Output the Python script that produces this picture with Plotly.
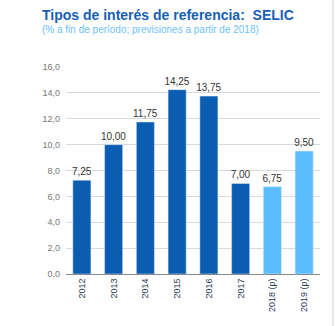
import plotly.graph_objects as go

categories = ["2012", "2013", "2014", "2015", "2016", "2017", "2018 (p)", "2019 (p)"]
values = [7.25, 10.00, 11.75, 14.25, 13.75, 7.00, 6.75, 9.50]
bar_colors = ["#0b5db1"] * 6 + ["#5bbdfd"] * 2

L, R, T, B = 66, 16, 67, 52
W, H = 336, 326
pw, ph = W - L - R, H - T - B

def px_x(x):
    return (x - L) / pw

def px_y(y):
    return (H - B - y) / ph

fig = go.Figure(go.Bar(
    x=categories, y=values, marker_color=bar_colors,
    text=[f"{v:.2f}".replace(".", ",") for v in values],
    textposition="outside", cliponaxis=False, constraintext="none",
    textfont=dict(family="Liberation Sans, Arial", size=10, color="#333333"),
))

fig.update_layout(
    width=W, height=H, margin=dict(l=L, r=R, t=T, b=B),
    paper_bgcolor="white", plot_bgcolor="white",
    separators=",.", bargap=0.43, showlegend=False,
    font=dict(family="Liberation Sans, Arial"),
    xaxis=dict(tickangle=-90, tickfont=dict(size=9, color="#2b3a55"),
               showline=True, linecolor="#888888", linewidth=1, ticks=""),
    yaxis=dict(range=[0, 16], dtick=2, tickformat=".1f",
               tickfont=dict(size=9, color="#777777"),
               gridcolor="#d9d9d9", gridwidth=1, zeroline=False, ticks="",
               ticklen=0),
    annotations=[
        dict(text="<b>Tipos de interés de referencia:  SELIC</b>", xref="paper", yref="paper",
             x=px_x(40), y=px_y(25), xanchor="left", yanchor="bottom", showarrow=False,
             font=dict(size=14, color="#1760b3")),
        dict(text="(% a fin de período; previsiones a partir de 2018)", xref="paper", yref="paper",
             x=px_x(40), y=px_y(37), xanchor="left", yanchor="bottom", showarrow=False,
             font=dict(size=10, color="#6cc2fb")),
    ],
    shapes=[dict(type="line", xref="paper", yref="paper", x0=px_x(333), x1=px_x(333),
                 y0=px_y(326), y1=px_y(0), line=dict(color="#d0d0d0", width=1))],
)
fig.update_yaxes(ticksuffix="  ")
fig.write_html("out.html")
